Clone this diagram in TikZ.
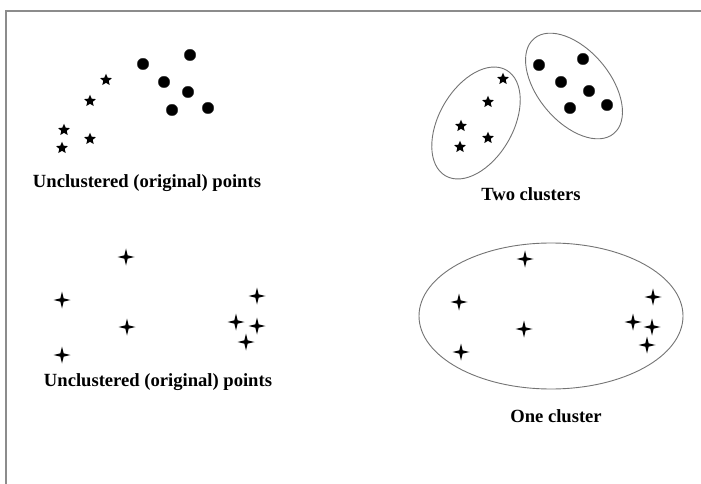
\documentclass[tikz,border=0pt]{standalone}
\usepackage{fontspec}
\setmainfont{Liberation Serif}
\usetikzlibrary{shapes.geometric}
\begin{document}
\begin{tikzpicture}[x=1bp,y=-1bp,
  starpt/.style={star, star points=5, star point ratio=2.2, fill=black, draw=none, minimum size=12.5bp, inner sep=0pt},
  blobpt/.style={circle, fill=black, draw=black!80, minimum size=11.5bp, inner sep=0pt},
  crosspt/.style={star, star points=4, star point ratio=3.6, fill=black, draw=none, minimum size=17bp, inner sep=0pt},
  lbl/.style={font=\bfseries\fontsize{18.6bp}{21bp}\selectfont, inner sep=0pt},
  clus/.style={draw=black!55, line width=0.9bp}]
\useasboundingbox (0,0) rectangle (701,484);
\draw[black!45, line width=1.5bp] (6,484) -- (6,11) -- (701,11);
% top-left
\foreach \n/\x/\y in {a1/106/80, a2/90/101, a3/64/130, a4/62/148, a5/90/139}
  \node[starpt] (\n) at (\x,\y) {};
\foreach \n/\x/\y in {b1/143/64, b2/190/55, b3/164/82, b4/188/92, b5/172/110, b6/208/108}
  \node[blobpt] (\n) at (\x,\y) {};
\node[lbl] (l1) at (147,183) {Unclustered (original) points};
% top-right
\foreach \n/\x/\y in {c1/503/79, c2/488/102, c3/461/126, c4/460/147, c5/488/138}
  \node[starpt] (\n) at (\x,\y) {};
\foreach \n/\x/\y in {d1/539/65, d2/583/59, d3/561/82, d4/589/91, d5/570/108, d6/607/105}
  \node[blobpt] (\n) at (\x,\y) {};
\draw[clus] (476,123) ellipse [x radius=61, y radius=37, rotate=60];
\draw[clus] (574,86) ellipse [x radius=62, y radius=36, rotate=-50];
\node[lbl] (l2) at (531,194) {Two clusters};
% bottom-left
\foreach \n/\x/\y in {e1/126/257, e2/62/300, e3/127/327, e4/62/355, e5/257/296, e6/236/322, e7/257/326, e8/246/342}
  \node[crosspt] (\n) at (\x,\y) {};
\node[lbl] (l3) at (158,382) {Unclustered (original) points};
% bottom-right
\draw[clus] (551,316) ellipse [x radius=132, y radius=73];
\foreach \n/\x/\y in {f1/525/259, f2/459/302, f3/524/329, f4/461/352, f5/653/297, f6/633/322, f7/652/327, f8/647/345}
  \node[crosspt] (\n) at (\x,\y) {};
\node[lbl] (l4) at (556,416) {One cluster};
\end{tikzpicture}
\end{document}
